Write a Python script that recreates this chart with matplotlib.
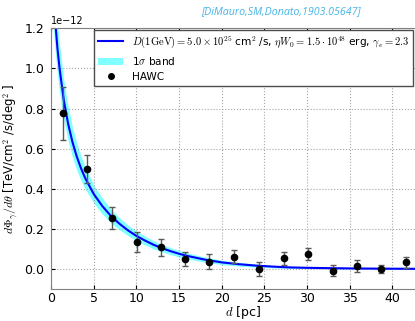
import numpy as np
import matplotlib
matplotlib.use('Agg')
from matplotlib import pyplot as plt
from matplotlib.patches import Patch
from matplotlib.lines import Line2D

plt.rcParams['mathtext.fontset'] = 'cm'
plt.rcParams['font.family'] = 'DejaVu Sans'

# HAWC points (units of 1e-12)
d_hawc = [1.43, 4.22, 7.17, 10.04, 12.87, 15.66, 18.57, 21.43, 24.4, 27.25, 30.1, 33.0, 35.85, 38.7, 41.6]
flux_hawc = [0.776, 0.499, 0.254, 0.134, 0.109, 0.051, 0.038, 0.063, 0.0, 0.055, 0.076, -0.008, 0.016, 0.001, 0.035]
err_hawc = [0.133, 0.072, 0.056, 0.049, 0.041, 0.037, 0.037, 0.033, 0.034, 0.032, 0.029, 0.027, 0.028, 0.022, 0.027]

# model curve and 1 sigma band (units of 1e-12)
d_model = [0.3, 0.5, 0.75, 1, 1.5, 2, 2.5, 3, 3.5, 4, 5, 6, 7, 8, 9, 10, 11, 12, 13, 14, 15, 16,
           18, 20, 22, 24, 26, 28, 30, 33, 36, 40, 45]
flux_model = [1.35, 1.23, 1.10, 1.00, 0.84, 0.725, 0.635, 0.563, 0.504, 0.454, 0.375, 0.315, 0.266,
              0.227, 0.194, 0.166, 0.143, 0.122, 0.105, 0.090, 0.077, 0.066, 0.048, 0.034, 0.025,
              0.018, 0.013, 0.009, 0.007, 0.005, 0.0035, 0.0025, 0.0015]
band_hi = [1.51, 1.38, 1.23, 1.12, 0.94, 0.81, 0.71, 0.63, 0.565, 0.51, 0.42, 0.355, 0.30, 0.257,
           0.22, 0.19, 0.165, 0.142, 0.123, 0.107, 0.093, 0.081, 0.061, 0.045, 0.034, 0.026,
           0.019, 0.014, 0.011, 0.008, 0.006, 0.0045, 0.003]
band_lo = [1.19, 1.08, 0.97, 0.88, 0.74, 0.64, 0.56, 0.495, 0.443, 0.40, 0.33, 0.275, 0.232, 0.197,
           0.168, 0.143, 0.121, 0.102, 0.087, 0.073, 0.061, 0.051, 0.035, 0.023, 0.016, 0.010,
           0.007, 0.004, 0.003, 0.002, 0.001, 0.0005, 0.0]

scale = 1e-12
model_label = r'$D(1{\rm GeV})=5.0\times10^{25}$ cm$^2$ /s, $\eta W_0=1.5\cdot10^{48}$ erg, $\gamma_e=2.3$'

fig = plt.figure(figsize=(4.15, 3.21), dpi=100)
ax = fig.add_axes([0.123, 0.0988, 0.925, 0.813])

ax.fill_between(d_model, np.array(band_lo) * scale, np.array(band_hi) * scale,
                color='cyan', alpha=0.5, lw=0)
ax.plot(d_model, np.array(flux_model) * scale, color='blue', lw=1.5)
ax.errorbar(d_hawc, np.array(flux_hawc) * scale, yerr=np.array(err_hawc) * scale,
            fmt='o', color='black', ms=4.5, ecolor='0.35', elinewidth=1, capsize=2, capthick=1)

ax.set_xlim(0, 45)
ax.set_ylim(-0.1e-12, 1.2e-12)
ax.set_xticks([0, 5, 10, 15, 20, 25, 30, 35, 40])
ax.grid(True, ls=':', color='0.65', lw=0.8)
ax.tick_params(direction='in', top=True, right=True, labelsize=9, length=3)
ax.tick_params(axis='x', pad=2)
ax.tick_params(axis='y', pad=5)
for s in ax.spines.values():
    s.set_color('0.5')
ax.yaxis.get_offset_text().set_fontsize(7)

ax.set_xlabel(r'$d$ [pc]', fontsize=9, labelpad=-0.5)
ax.set_ylabel(r'$d\Phi_\gamma/d\theta$ [TeV/cm$^2$ /s/deg$^2$ ]', fontsize=8.5, labelpad=2)

handles = [Line2D([], [], color='blue', lw=1.5),
           Patch(facecolor='cyan', alpha=0.5, lw=0),
           Line2D([], [], color='black', marker='o', ms=4, ls='none')]
labels = [model_label, r'1$\sigma$ band', 'HAWC']
leg = ax.legend(handles, labels, loc='upper right', bbox_to_anchor=(413 / 415, 1 - 30 / 321),
                bbox_transform=fig.transFigure, fontsize=7.6, fancybox=False, handlelength=2.4,
                framealpha=1, edgecolor='0.3', borderaxespad=0, labelspacing=0.45)
leg.get_frame().set_linewidth(1)

fig.text(281 / 415, 1 - 12 / 321, '[DiMauro,SM,Donato,1903.05647]', color='#45b4e6',
         fontsize=7.7, style='italic', family='Open Sans', ha='center', va='center')

plt.savefig('out.png', dpi=100)
